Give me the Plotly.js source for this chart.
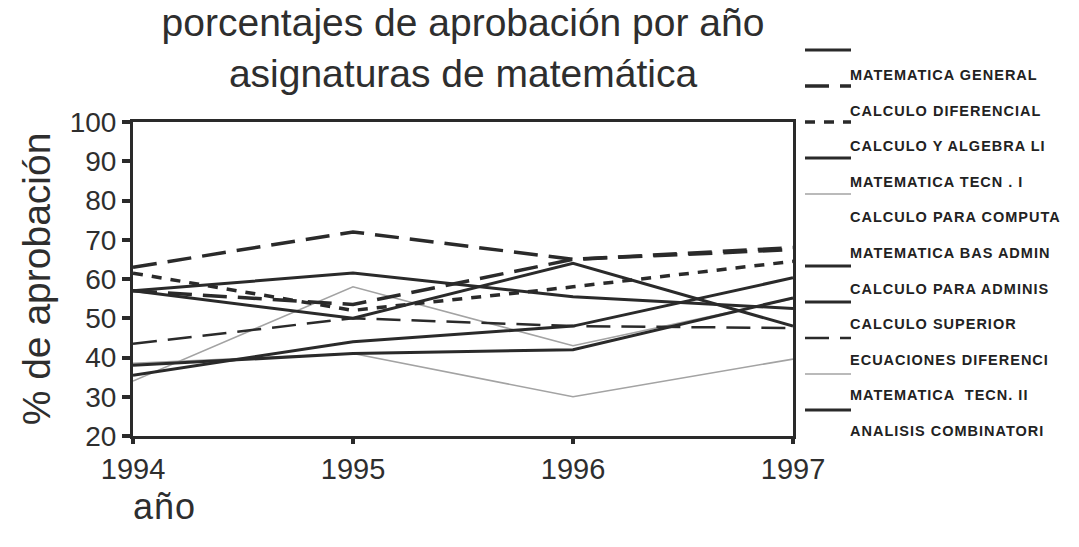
<!DOCTYPE html>
<html>
<head>
<meta charset="utf-8">
<script src="https://cdn.plot.ly/plotly-3.0.1.min.js"></script>
<style>
  html, body { margin: 0; padding: 0; background: #ffffff; }
  #chart { width: 1079px; height: 547px; }
  text.annotation-text { letter-spacing: 1px; }
</style>
</head>
<body>
<div id="chart"></div>
<script>
// ---- data ----
const years = [1994, 1995, 1996, 1997];
const yTickVals = [20, 30, 40, 50, 60, 70, 80, 90, 100];

const seriesNames = [
  "MATEMATICA GENERAL",
  "CALCULO DIFERENCIAL",
  "CALCULO Y ALGEBRA LI",
  "MATEMATICA TECN . I",
  "CALCULO PARA COMPUTA",
  "MATEMATICA BAS ADMIN",
  "CALCULO PARA ADMINIS",
  "CALCULO SUPERIOR",
  "ECUACIONES DIFERENCI",
  "MATEMATICA  TECN. II",
  "ANALISIS COMBINATORI"
];

const matGeneral      = [57, 61.5, 55.5, 52.5];
const calcDiferencial = [63, 72, 65, 67.5];
const calcAlgebra     = [61.5, 52, 58, 64.5];
const matTecn1        = [57, 50, 64, 48];
const calcComputa     = [34, 58, 43, 55];
const matBasAdmin     = [57, 53.5, 65, 68];
const calcAdminis     = [35.5, 44, 48, 60.3];
const calcSuperior    = [38, 41, 42, 55.2];
const ecuaciones      = [43.5, 50, 48, 47.5];
const matTecn2        = [38.5, 41, 30, 39.6];
const analisis        = [null, null, null, 55];

const seriesValues = [matGeneral, calcDiferencial, calcAlgebra, matTecn1, calcComputa,
  matBasAdmin, calcAdminis, calcSuperior, ecuaciones, matTecn2, analisis];

// ---- styles ----
const DARK = "#2a2a2a";
const GREY = "#a3a3a3";
const styles = [
  {color: DARK, width: 3,   dash: "solid"},
  {color: DARK, width: 3.5, dash: "24px,11px"},
  {color: DARK, width: 3.5, dash: "10px,9px"},
  {color: DARK, width: 3,   dash: "solid"},
  {color: GREY, width: 1.6, dash: "solid"},
  {color: DARK, width: 3.5, dash: "24px,11px", noSample: true},
  {color: DARK, width: 3,   dash: "solid"},
  {color: DARK, width: 3,   dash: "solid"},
  {color: DARK, width: 2.5, dash: "24px,11px"},
  {color: GREY, width: 1.6, dash: "solid"},
  {color: DARK, width: 3,   dash: "solid"}
];

// draw grey lines first so dark lines sit on top
const drawOrder = [4, 9, 0, 1, 2, 3, 5, 6, 7, 8, 10];
const traces = drawOrder.map(i => ({
  type: "scatter",
  mode: "lines",
  name: seriesNames[i],
  x: years,
  y: seriesValues[i],
  line: {color: styles[i].color, width: styles[i].width, dash: styles[i].dash},
  connectgaps: false,
  hoverinfo: "skip"
}));

// ---- geometry ----
const W = 1079, H = 547;
const M = {l: 133, r: 286, t: 122, b: 111};
const plotW = W - M.l - M.r, plotH = H - M.t - M.b;
const px2x = px => (px - M.l) / plotW;
const px2y = py => (H - M.b - py) / plotH;

const FONT = "Liberation Sans, Arial, sans-serif";
const TXT = "#2e2e2e";

// custom legend: sample line above-left of each label
const shapes = [];
const annotations = [];
seriesNames.forEach((name, i) => {
  const sampleY = 50 + 36.0 * i;
  const labelY = 75 + 35.6 * i;
  const st = styles[i];
  if (!st.noSample) {
    shapes.push({
      type: "line", xref: "paper", yref: "paper",
      x0: px2x(805), x1: px2x(851), y0: px2y(sampleY), y1: px2y(sampleY),
      line: {color: st.color, width: st.width, dash: st.dash}
    });
  }
  annotations.push({
    text: name, xref: "paper", yref: "paper",
    x: px2x(848), y: px2y(labelY), xanchor: "left", yanchor: "middle",
    showarrow: false,
    font: {family: FONT, size: 14.5, color: "#222", weight: "bold"}
  });
});

annotations.push({
  text: "año", xref: "paper", yref: "paper",
  x: px2x(131), y: px2y(506), xanchor: "left", yanchor: "middle",
  showarrow: false,
  font: {family: FONT, size: 36, color: TXT}
});

const layout = {
  width: W, height: H,
  margin: M,
  paper_bgcolor: "#ffffff",
  plot_bgcolor: "#ffffff",
  showlegend: false,
  title: {
    text: "porcentajes de aprobación por año<br>asignaturas de matemática",
    font: {family: FONT, size: 39, color: TXT},
    xref: "paper", x: 0.5, xanchor: "center",
    yref: "container", y: 1 - 36 / H, yanchor: "top"
  },
  xaxis: {
    range: [1994, 1997],
    tickvals: years,
    ticktext: years.map(String),
    showgrid: false, zeroline: false,
    showline: true, linecolor: DARK, linewidth: 3, mirror: true,
    ticks: "outside", ticklen: 5, tickwidth: 4, tickcolor: DARK,
    tickfont: {family: FONT, size: 29, color: TXT}
  },
  yaxis: {
    range: [20, 100],
    tickvals: yTickVals,
    ticktext: yTickVals.map(String),
    showgrid: false, zeroline: false,
    showline: true, linecolor: DARK, linewidth: 3, mirror: true,
    ticks: "outside", ticklen: 8, tickwidth: 4, tickcolor: DARK,
    tickfont: {family: FONT, size: 28, color: TXT},
    title: {text: "% de aprobación", font: {family: FONT, size: 39, color: TXT}, standoff: 8}
  },
  shapes: shapes,
  annotations: annotations
};

Plotly.newPlot("chart", traces, layout, {displayModeBar: false, staticPlot: true});
</script>
</body>
</html>
